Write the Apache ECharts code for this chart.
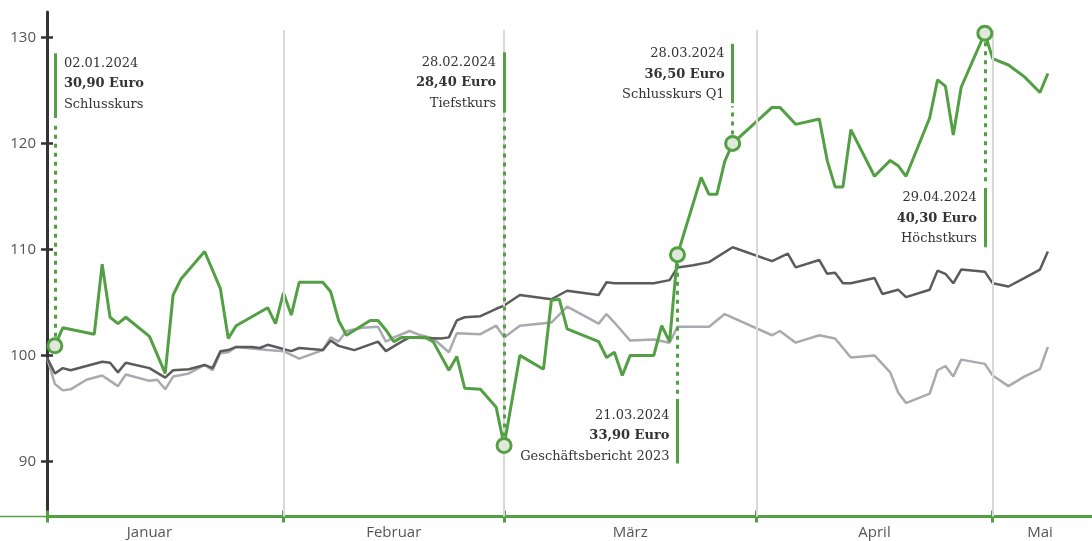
<!DOCTYPE html>
<html><head><meta charset="utf-8">
<script src="https://cdn.jsdelivr.net/npm/echarts@6/dist/echarts.min.js"></script>
<style>html,body{margin:0;padding:0;background:#fff}#c{width:1092px;height:541px}</style>
</head><body><div id="c"></div>
<script>
// ---- data (index values, 02.01.2024 = ~100) ----
const stockSeries = [
['2024-01-02',100.9],['2024-01-03',102.6],['2024-01-07',102.0],['2024-01-08',108.6],['2024-01-09',103.6],
['2024-01-10',103.0],['2024-01-11',103.6],['2024-01-14',101.8],['2024-01-16',98.3],['2024-01-17',105.7],
['2024-01-18',107.2],['2024-01-21',109.8],['2024-01-23',106.3],['2024-01-24',101.6],['2024-01-25',102.8],
['2024-01-29',104.5],['2024-01-30',103.0],['2024-01-31',105.9],['2024-02-01',103.8],['2024-02-02',106.9],
['2024-02-05',106.9],['2024-02-06',106.0],['2024-02-07',103.3],['2024-02-08',101.9],['2024-02-11',103.3],
['2024-02-12',103.3],['2024-02-13',102.4],['2024-02-14',101.3],['2024-02-15',101.7],['2024-02-18',101.7],
['2024-02-19',101.3],['2024-02-21',98.6],['2024-02-22',99.9],['2024-02-23',96.9],['2024-02-25',96.8],
['2024-02-27',95.1],['2024-02-28',91.5],['2024-03-01',100.0],['2024-03-04',98.7],['2024-03-05',105.2],
['2024-03-06',105.3],['2024-03-07',102.5],['2024-03-11',101.3],['2024-03-12',99.8],['2024-03-13',100.3],
['2024-03-14',98.1],['2024-03-15',100.0],['2024-03-18',100.0],['2024-03-19',102.8],['2024-03-20',101.3],
['2024-03-21',109.5],['2024-03-24',116.8],['2024-03-25',115.2],['2024-03-26',115.2],['2024-03-27',118.3],
['2024-03-28',120.0],['2024-04-02',123.4],['2024-04-03',123.4],['2024-04-05',121.8],['2024-04-08',122.3],
['2024-04-09',118.4],['2024-04-10',115.9],['2024-04-11',115.9],['2024-04-12',121.3],['2024-04-15',116.9],
['2024-04-17',118.4],['2024-04-18',117.9],['2024-04-19',116.9],['2024-04-22',122.4],['2024-04-23',126.0],
['2024-04-24',125.4],['2024-04-25',120.8],['2024-04-26',125.3],['2024-04-29',130.4],['2024-04-30',128.0],
['2024-05-02',127.4],['2024-05-04',126.3],['2024-05-06',124.8],['2024-05-07',126.6]
];
const indexDark = [
['2024-01-01',99.8],['2024-01-02',98.3],['2024-01-03',98.8],['2024-01-04',98.6],['2024-01-08',99.4],
['2024-01-09',99.3],['2024-01-10',98.4],['2024-01-11',99.3],['2024-01-14',98.8],['2024-01-16',97.9],
['2024-01-17',98.6],['2024-01-19',98.7],['2024-01-21',99.1],['2024-01-22',98.8],['2024-01-23',100.4],
['2024-01-24',100.5],['2024-01-25',100.8],['2024-01-27',100.8],['2024-01-28',100.7],['2024-01-29',101.0],
['2024-01-31',100.6],['2024-02-01',100.4],['2024-02-02',100.7],['2024-02-05',100.5],['2024-02-06',101.4],
['2024-02-07',100.9],['2024-02-08',100.7],['2024-02-09',100.5],['2024-02-12',101.3],['2024-02-13',100.4],
['2024-02-15',101.3],['2024-02-16',101.7],['2024-02-20',101.6],['2024-02-21',101.7],['2024-02-22',103.3],
['2024-02-23',103.6],['2024-02-25',103.7],['2024-02-27',104.4],['2024-02-28',104.7],['2024-03-01',105.7],
['2024-03-05',105.3],['2024-03-07',106.1],['2024-03-11',105.7],['2024-03-12',106.9],['2024-03-13',106.8],
['2024-03-18',106.8],['2024-03-20',107.1],['2024-03-21',108.3],['2024-03-23',108.5],['2024-03-25',108.8],
['2024-03-28',110.2],['2024-04-02',108.9],['2024-04-04',109.6],['2024-04-05',108.3],['2024-04-08',109.0],
['2024-04-09',107.7],['2024-04-10',107.8],['2024-04-11',106.8],['2024-04-12',106.8],['2024-04-15',107.3],
['2024-04-16',105.8],['2024-04-18',106.2],['2024-04-19',105.5],['2024-04-22',106.2],['2024-04-23',108.0],
['2024-04-24',107.7],['2024-04-25',106.8],['2024-04-26',108.1],['2024-04-29',107.9],['2024-04-30',106.8],
['2024-05-02',106.5],['2024-05-04',107.3],['2024-05-06',108.1],['2024-05-07',109.8]
];
const indexLight = [
['2024-01-01',99.8],['2024-01-02',97.3],['2024-01-03',96.7],['2024-01-04',96.8],['2024-01-06',97.7],
['2024-01-08',98.1],['2024-01-10',97.1],['2024-01-11',98.2],['2024-01-14',97.6],['2024-01-15',97.7],
['2024-01-16',96.8],['2024-01-17',98.0],['2024-01-19',98.3],['2024-01-21',99.1],['2024-01-22',98.6],
['2024-01-23',100.2],['2024-01-24',100.3],['2024-01-25',100.8],['2024-01-29',100.5],['2024-01-31',100.4],
['2024-02-02',99.7],['2024-02-05',100.5],['2024-02-06',101.7],['2024-02-07',101.3],['2024-02-08',102.3],
['2024-02-10',102.6],['2024-02-12',102.7],['2024-02-13',101.3],['2024-02-14',101.7],['2024-02-16',102.3],
['2024-02-17',102.0],['2024-02-19',101.6],['2024-02-21',100.3],['2024-02-22',102.1],['2024-02-25',102.0],
['2024-02-27',102.8],['2024-02-28',101.7],['2024-03-01',102.8],['2024-03-05',103.1],['2024-03-07',104.6],
['2024-03-11',103.0],['2024-03-12',103.9],['2024-03-13',103.1],['2024-03-15',101.4],['2024-03-18',101.5],
['2024-03-20',101.2],['2024-03-21',102.7],['2024-03-25',102.7],['2024-03-27',103.9],['2024-04-02',101.9],
['2024-04-03',102.3],['2024-04-05',101.2],['2024-04-08',101.9],['2024-04-10',101.6],['2024-04-12',99.8],
['2024-04-15',100.0],['2024-04-17',98.4],['2024-04-18',96.5],['2024-04-19',95.5],['2024-04-22',96.4],
['2024-04-23',98.6],['2024-04-24',99.0],['2024-04-25',98.0],['2024-04-26',99.6],['2024-04-29',99.2],
['2024-04-30',98.1],['2024-05-02',97.1],['2024-05-04',98.0],['2024-05-06',98.7],['2024-05-07',100.8]
];
const yTicks = [90, 100, 110, 120, 130];
const monthBoundaries = ['2024-01-01','2024-01-31','2024-02-28','2024-03-31','2024-04-30'];
const monthLabelDates = ['2024-01-14','2024-02-14','2024-03-15','2024-04-15','2024-05-06'];
const monthNames = ['Januar','Februar','März','April','Mai'];
const annotationDates = ['2024-01-02','2024-02-28','2024-03-21','2024-03-28','2024-04-29'];
const annotationDateText = ['02.01.2024','28.02.2024','21.03.2024','28.03.2024','29.04.2024'];
const annotationPrices = ['30,90 Euro','28,40 Euro','33,90 Euro','36,50 Euro','40,30 Euro'];
const annotationNotes = ['Schlusskurs','Tiefstkurs','Geschäftsbericht 2023','Schlusskurs Q1','Höchstkurs'];

// ---- layout / style (not data) ----
const annoLayout = [
  {side:'right', barFrom:128.5, barTo:122.4, textTop:128.5},
  {side:'left',  barFrom:128.6, barTo:122.9, textTop:128.6},
  {side:'left',  barFrom:95.9,  barTo:89.8,  textTop:95.3},
  {side:'left',  barFrom:129.4, barTo:123.8, textTop:129.4},
  {side:'left',  barFrom:115.8, barTo:110.2, textTop:115.8}
];
const GREEN = '#52a043';
const Y_MIN = 84.8, Y_MAX = 132.4, GRID_TOP_VAL = 130.7;
const DAY = 86400000;
const ts = s => { const [y,m,d] = s.split('-').map(Number); return new Date(y, m-1, d).getTime(); };
const toPts = arr => arr.map(([d,v]) => [ts(d), v]);
const stockMap = Object.fromEntries(stockSeries);
const X_MIN = ts('2024-01-01');
const X_MAX = X_MIN + 132.6 * DAY;

const chart = echarts.init(document.getElementById('c'), null, {renderer:'canvas'});

const gridLines = monthBoundaries.slice(1).map(d => [
  {coord:[ts(d), Y_MIN]}, {coord:[ts(d), GRID_TOP_VAL]}
]);

const annoLineData = [];
annotationDates.forEach((d, i) => {
  const L = annoLayout[i], v = stockMap[d], t = ts(d);
  annoLineData.push([{coord:[t, L.barFrom], lineStyle:{type:'solid', width:3, color:GREEN}}, {coord:[t, L.barTo]}]);
  const dotEnd = (L.barTo > v) ? L.barTo - 0.3 : L.barFrom + 0.3;
  annoLineData.push([{coord:[t, v], lineStyle:{type:[4,5], width:3, color:GREEN}}, {coord:[t, dotEnd]}]);
});

const fontAxis = '"Open Sans", sans-serif';
chart.setOption({
  animation: false,
  backgroundColor: '#fff',
  grid: {left:47, right:0, top:12, bottom:24.5, containLabel:false},
  xAxis: [{
    type:'value', min:X_MIN, max:X_MAX, position:'bottom',
    axisLine:{show:true, lineStyle:{color:GREEN, width:3}},
    axisTick:{show:true, inside:false, length:6, lineStyle:{color:GREEN, width:3}, customValues: monthBoundaries.map(ts)},
    axisLabel:{show:true, customValues: monthLabelDates.map(ts), margin:9,
      formatter: v => monthNames[new Date(v).getMonth()],
      color:'#555', fontSize:15, fontFamily: fontAxis},
    splitLine:{show:false}
  },{
    type:'value', min:X_MIN, max:X_MAX, position:'bottom',
    axisLine:{show:false},
    axisTick:{show:true, inside:true, length:6, lineStyle:{color:GREEN, width:3}, customValues: monthBoundaries.map(ts)},
    axisLabel:{show:false}, splitLine:{show:false}
  }],
  yAxis: [{
    type:'value', min:Y_MIN, max:Y_MAX, position:'left',
    axisLine:{show:true, lineStyle:{color:'#333', width:3}},
    axisTick:{show:true, inside:false, length:6, lineStyle:{color:'#333', width:2.5}, customValues: yTicks},
    axisLabel:{show:true, customValues: yTicks, margin:11, color:'#555', fontSize:15, fontFamily: fontAxis},
    splitLine:{show:false}
  },{
    type:'value', min:Y_MIN, max:Y_MAX, position:'left',
    axisLine:{show:false},
    axisTick:{show:true, inside:true, length:6, lineStyle:{color:'#333', width:2.5}, customValues: yTicks},
    axisLabel:{show:false}, splitLine:{show:false}
  }],
  series: [
    {type:'line', name:'Index 2', data: toPts(indexLight), showSymbol:false, symbol:'none',
     lineStyle:{color:'#a9a9b0', width:2.5}, z:2,
     markLine:{silent:true, symbol:['none','none'], label:{show:false}, animation:false,
       lineStyle:{color:'#d9d9d9', width:2, type:'solid'}, data: gridLines}},
    {type:'line', name:'Index 1', data: toPts(indexDark), showSymbol:false, symbol:'none',
     lineStyle:{color:'#5b5b5b', width:2.5}, z:3},
    {type:'line', name:'Aktie', data: toPts(stockSeries), showSymbol:false, symbol:'none',
     lineStyle:{color:GREEN, width:3}, z:4,
     markLine:{silent:true, symbol:['none','none'], label:{show:false}, animation:false, data: annoLineData},
     markPoint:{silent:true, symbol:'circle', symbolSize:14, animation:false,
       itemStyle:{color:'#dfe8da', borderColor:GREEN, borderWidth:3},
       label:{show:false},
       data: annotationDates.map(d => ({coord:[ts(d), stockMap[d]]}))}}
  ]
});

// annotation texts + thin left axis extension
const graphics = [];
const axisY = chart.convertToPixel({yAxisIndex:0}, Y_MIN);
graphics.push({type:'line', shape:{x1:0, y1:axisY, x2:47, y2:axisY}, style:{stroke:GREEN, lineWidth:1.5}, silent:true});
const serif = '"DejaVu Serif", serif';
annotationDates.forEach((d, i) => {
  const L = annoLayout[i];
  const [px, py] = chart.convertToPixel({xAxisIndex:0, yAxisIndex:0}, [ts(d), L.textTop]);
  const x = L.side === 'right' ? px + 9 : px - 8;
  const align = L.side === 'right' ? 'left' : 'right';
  const lines = [
    {t: annotationDateText[i], w:'normal'},
    {t: annotationPrices[i], w:'bold'},
    {t: annotationNotes[i], w:'normal'}
  ];
  lines.forEach((ln, j) => {
    graphics.push({type:'text', silent:true, style:{
      text: ln.t, x: x, y: py + 10 + j*20.5, align: align, verticalAlign:'middle',
      fill:'#333', font: (ln.w==='bold'?'bold ':'') + '13px ' + serif
    }});
  });
});
chart.setOption({graphic: graphics});
</script>
</body></html>
